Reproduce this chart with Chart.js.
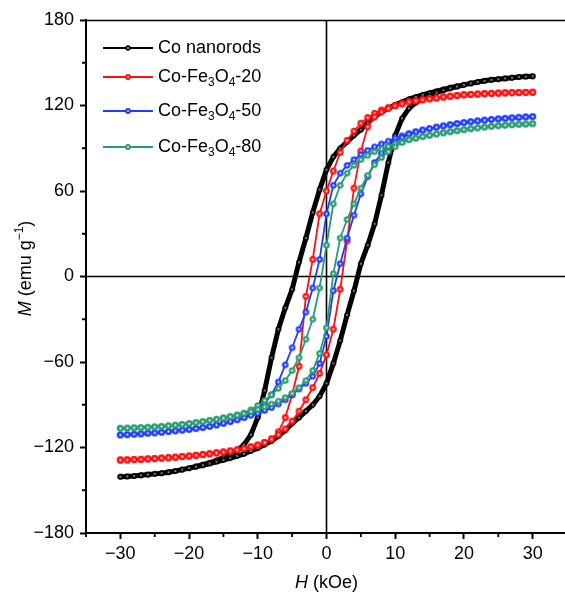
<!DOCTYPE html>
<html><head><meta charset="utf-8">
<script src="https://cdn.jsdelivr.net/npm/chart.js@4/dist/chart.umd.min.js"></script>
<style>html,body{margin:0;padding:0;overflow:hidden;background:#fff}#wrap{position:absolute;left:0;top:0;width:575px;height:592px}</style>
</head><body><div id="wrap"><canvas id="c"></canvas></div>
<script>
// Field values (kOe): descending branch (+30 -> -30) and ascending branch (-30 -> +30)
const hDown = [30,29,28,27,26,25,24,23,22,21,20,19,18,17,16,15,14,13,12,11,10,9,8,7,6,5,4,3,2,1,0,-1,-2,-3,-4,-5,-6,-7,-8,-9,-10,-11,-12,-13,-14,-15,-16,-17,-18,-19,-20,-21,-22,-23,-24,-25,-26,-27,-28,-29,-30];
const hUp = [-30,-29,-28,-27,-26,-25,-24,-23,-22,-21,-20,-19,-18,-17,-16,-15,-14,-13,-12,-11,-10,-9,-8,-7,-6,-5,-4,-3,-2,-1,0,1,2,3,4,5,6,7,8,9,10,11,12,13,14,15,16,17,18,19,20,21,22,23,24,25,26,27,28,29,30];

// Magnetization M (emu/g)
const coDown = [140.5,140.3,140,139.5,139,138.5,138,137.3,136.5,135.5,134.5,133.5,132.5,131.3,130,128.8,127.5,126,124.5,122.5,120.5,118,115.5,112,108,103,99,94.5,90,84,75,61,45,27,10,-9,-22,-37,-57,-80,-99,-111,-118,-122,-124.5,-127,-129,-130.7,-132,-133.3,-134.5,-135.5,-136.5,-137.3,-138,-138.5,-139,-139.5,-140,-140.3,-140.5];
const coUp = [-140.5,-140.3,-140,-139.5,-139,-138.5,-138,-137.3,-136.5,-135.5,-134.5,-133.5,-132.5,-131.3,-130,-128.8,-127.5,-126,-124.5,-122.5,-120.5,-118,-115.5,-112,-108,-103,-99,-94.5,-90,-84,-75,-61,-45,-27,-10,9,22,37,57,80,99,111,118,122,124.5,127,129,130.7,132,133.3,134.5,135.5,136.5,137.3,138,138.5,139,139.5,140,140.3,140.5];

const fe20Down = [129.3,129.2,129.1,129,128.9,128.7,128.5,128.3,128,127.8,127.5,127,126.5,126,125.3,124.7,124,123.3,122.5,121.3,120,118.5,116.8,114.5,111.5,107.5,102,95.5,87,74,60,44,12,-14,-63,-83,-99,-109,-114,-116.5,-118.3,-119.6,-120.8,-121.7,-122.5,-123.2,-123.8,-124.4,-125,-125.5,-126,-126.4,-126.8,-127.2,-127.5,-127.8,-128,-128.3,-128.5,-128.7,-128.8];
const fe20Up = [-128.8,-128.7,-128.5,-128.3,-128,-127.8,-127.5,-127.2,-126.8,-126.4,-126,-125.5,-125,-124.4,-123.8,-123.2,-122.5,-121.7,-120.8,-119.6,-118.3,-116.5,-114.2,-111,-107,-101.5,-94.5,-86.5,-78,-68,-55,-37,-9,25,62,88,105,112,115.5,118,119.8,121.2,122.5,123.3,124,124.7,125.3,126,126.5,127,127.5,127.8,128,128.3,128.5,128.7,128.9,129,129.1,129.2,129.3];

const fe50Down = [112.2,112,111.7,111.4,111,110.6,110.2,109.7,109.2,108.6,108,107.3,106.5,105.7,104.8,103.8,102.8,101.6,100.3,98.8,97,95,93,91,88.5,85.5,82,78,72.5,64,44,12,-8,-25,-37,-50,-62,-74,-83,-89,-93.5,-96.5,-98.8,-100.4,-101.8,-103,-104.2,-105.2,-106,-106.7,-107.3,-107.8,-108.3,-108.8,-109.3,-109.7,-110,-110.4,-110.7,-111,-111.2];
const fe50Up = [-111.2,-111,-110.7,-110.4,-110,-109.7,-109.3,-108.8,-108.3,-107.8,-107.3,-106.7,-106,-105.2,-104.2,-103,-101.8,-100.5,-99,-97.5,-96,-94,-92,-89.5,-86.5,-83,-79,-75,-70,-61,-42,-10,9,27,43,58,70,80,86.5,91,94.5,97.5,100,101.5,102.8,103.8,104.8,105.7,106.5,107.3,108,108.6,109.2,109.7,110.2,110.6,111,111.4,111.7,112,112.2];

const fe80Down = [107.2,107,106.8,106.5,106.2,105.8,105.4,104.9,104.3,103.7,103,102.3,101.6,100.8,100,99.1,98.2,97.1,96,94.6,93,91.3,89.5,87.5,85,82,78,72.5,64,51,22,-8,-30,-44,-57,-66,-73,-78.5,-83,-87,-90.5,-93.5,-95.8,-97.1,-98.2,-99.2,-100.2,-101,-101.8,-102.5,-103.2,-103.8,-104.3,-104.8,-105.2,-105.5,-105.8,-106,-106.2,-106.4,-106.5];
const fe80Up = [-106.5,-106.4,-106.2,-106,-105.8,-105.5,-105.2,-104.8,-104.3,-103.8,-103.2,-102.5,-101.8,-101,-100.2,-99.3,-98.4,-97.3,-96.2,-94.8,-93.3,-91.5,-89.5,-87.5,-85,-82,-78,-73,-66,-54,-36,2,27,40,51,62,71,78.5,83.5,87.5,91,94,96,97.1,98.2,99.1,100,100.8,101.6,102.3,103,103.7,104.3,104.9,105.4,105.8,106.2,106.5,106.8,107,107.2];

const seriesNames = ['Co nanorods','Co-Fe3O4-20','Co-Fe3O4-50','Co-Fe3O4-80'];
const xTicks = [-30,-20,-10,0,10,20,30];
const xMinor = [-35,-25,-15,-5,5,15,25];
const yTicks = [-180,-120,-60,0,60,120,180];
const yMinor = [-150,-90,-30,30,90,150];

const colors = ['#000000','#ff1010','#1f3cff','#2a9a72'];
const FONT = "'Liberation Sans', Arial, sans-serif";

function sphere(color, r, hi, edge) {
  const s = Math.ceil(r * 2) + 2;
  const c = document.createElement('canvas');
  c.width = s; c.height = s;
  const g = c.getContext('2d');
  const gr = g.createRadialGradient(s/2, s/2, 0, s/2, s/2, r);
  gr.addColorStop(0, '#ffffff');
  gr.addColorStop(hi, '#ffffff');
  gr.addColorStop(edge, color);
  gr.addColorStop(1, color);
  g.fillStyle = gr;
  g.beginPath(); g.arc(s/2, s/2, r, 0, Math.PI * 2); g.fill();
  return c;
}

function loop(hd, md, hu, mu) {
  const pts = [];
  hd.forEach((h, i) => pts.push({x: h, y: md[i]}));
  hu.forEach((h, i) => pts.push({x: h, y: mu[i]}));
  return pts;
}

const mk = [sphere('#000', 2.8, 0.05, 0.45), sphere(colors[1], 3.4, 0.08, 0.5), sphere(colors[2], 3.3, 0.08, 0.5), sphere(colors[3], 3.3, 0.08, 0.5)];
const mkLeg = [sphere('#000', 2.7, 0.05, 0.5), sphere(colors[1], 2.9, 0.08, 0.5), sphere(colors[2], 2.9, 0.08, 0.5), sphere(colors[3], 2.9, 0.08, 0.5)];

const loops = [
  loop(hDown, coDown, hUp, coUp),
  loop(hDown, fe20Down, hUp, fe20Up),
  loop(hDown, fe50Down, hUp, fe50Up),
  loop(hDown, fe80Down, hUp, fe80Up)
];
const widths = [5, 1.8, 1.8, 1.8];

const datasets = loops.map((d, i) => ({
  label: seriesNames[i],
  data: d,
  showLine: true,
  borderColor: colors[i],
  backgroundColor: colors[i],
  borderWidth: widths[i],
  pointStyle: mk[i],
  pointRadius: 3,
  pointHoverRadius: 3,
  tension: 0,
  fill: false,
  order: 4 - i
}));

function richParts(label) {
  const parts = [];
  const re = /([A-Za-z])(\d)/g;
  let last = 0, m;
  while ((m = re.exec(label)) !== null) {
    parts.push({t: label.slice(last, m.index + 1)});
    parts.push({t: m[2], sub: true});
    last = m.index + 2;
  }
  parts.push({t: label.slice(last)});
  return parts;
}

function drawRich(ctx, parts, x, y, size, center) {
  const fontFor = p => (p.it ? 'italic ' : '') + ((p.sub || p.sup) ? Math.round(size * 0.64) : size) + 'px ' + FONT;
  let total = 0;
  parts.forEach(p => { ctx.font = fontFor(p); total += ctx.measureText(p.t).width; });
  let cx = center ? x - total / 2 : x;
  ctx.textBaseline = 'middle';
  ctx.textAlign = 'left';
  parts.forEach(p => {
    ctx.font = fontFor(p);
    let dy = 0;
    if (p.sub) dy = size * 0.32;
    if (p.sup) dy = -size * 0.33;
    ctx.fillText(p.t, cx, y + dy);
    cx += ctx.measureText(p.t).width;
  });
}

const deco = {
  id: 'deco',
  beforeDatasetsDraw(chart) {
    const ctx = chart.ctx;
    const {left, right, top, bottom} = chart.chartArea;
    const x0 = chart.scales.x.getPixelForValue(0);
    const y0 = chart.scales.y.getPixelForValue(0);
    ctx.save();
    ctx.strokeStyle = '#000';
    ctx.lineWidth = 1.6;
    ctx.beginPath();
    ctx.moveTo(x0, top); ctx.lineTo(x0, bottom);
    ctx.moveTo(left, y0); ctx.lineTo(right, y0);
    ctx.stroke();
    ctx.beginPath();
    ctx.moveTo(left, top + 0.5); ctx.lineTo(right, top + 0.5);
    ctx.stroke();
    ctx.restore();
  },
  afterDraw(chart) {
    const ctx = chart.ctx;
    const {left, top, bottom} = chart.chartArea;
    const xs = chart.scales.x, ys = chart.scales.y;
    ctx.save();
    ctx.strokeStyle = '#000';
    ctx.lineWidth = 1.8;
    ctx.beginPath();
    xMinor.forEach(v => { const p = xs.getPixelForValue(v); ctx.moveTo(p, bottom); ctx.lineTo(p, bottom + 4); });
    yMinor.forEach(v => { const p = ys.getPixelForValue(v); ctx.moveTo(left, p); ctx.lineTo(left - 4, p); });
    ctx.stroke();

    // legend
    const rows = [28, 57, 91, 127];
    seriesNames.forEach((name, i) => {
      const y = top + rows[i];
      ctx.strokeStyle = colors[i];
      ctx.lineWidth = 2.2;
      ctx.beginPath(); ctx.moveTo(left + 17, y); ctx.lineTo(left + 67, y); ctx.stroke();
      const im = mkLeg[i];
      ctx.drawImage(im, left + 42 - im.width / 2, y - im.height / 2);
      ctx.fillStyle = '#000';
      drawRich(ctx, richParts(name), left + 72, y, 18, false);
    });

    // axis titles
    ctx.fillStyle = '#000';
    drawRich(ctx, [{t: 'H', it: true}, {t: ' (kOe)'}], xs.getPixelForValue(0), 583, 18, true);
    ctx.translate(26, (top + bottom) / 2 - 8);
    ctx.rotate(-Math.PI / 2);
    drawRich(ctx, [{t: 'M', it: true}, {t: ' (emu g'}, {t: '\u22121', sup: true}, {t: ')'}], 0, 0, 18, true);
    ctx.restore();
  }
};

const fmt = v => (v < 0 ? '\u2212' + Math.abs(v) : String(v));

new Chart(document.getElementById('c'), {
  type: 'scatter',
  data: {datasets},
  options: {
    responsive: true,
    maintainAspectRatio: false,
    animation: false,
    events: [],
    layout: {padding: {top: 20, right: 0, left: 0, bottom: 0}},
    plugins: {legend: {display: false}, tooltip: {enabled: false}},
    scales: {
      x: {
        type: 'linear', min: -35, max: 35,
        afterBuildTicks: s => { s.ticks = xTicks.map(v => ({value: v})); },
        afterFit: s => { s.height = 59; },
        border: {display: true, color: '#000', width: 2},
        grid: {display: true, drawOnChartArea: false, drawTicks: true, tickLength: 6, tickColor: '#000', tickWidth: 2},
        ticks: {color: '#000', font: {family: FONT, size: 18}, padding: 4, maxRotation: 0, callback: v => fmt(v)}
      },
      y: {
        type: 'linear', min: -180, max: 180,
        afterBuildTicks: s => { s.ticks = yTicks.map(v => ({value: v})); },
        afterFit: s => { s.width = 86; },
        border: {display: true, color: '#000', width: 2},
        grid: {display: true, drawOnChartArea: false, drawTicks: true, tickLength: 6, tickColor: '#000', tickWidth: 2},
        ticks: {color: '#000', font: {family: FONT, size: 18}, padding: 6, callback: v => fmt(v)}
      }
    }
  },
  plugins: [deco]
});
</script>
</body></html>
